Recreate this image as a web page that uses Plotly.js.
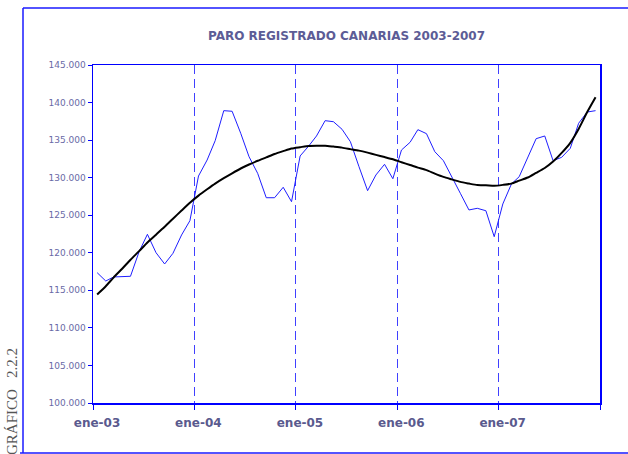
<!DOCTYPE html>
<html>
<head>
<meta charset="utf-8">
<script src="https://cdn.plot.ly/plotly-3.0.1.min.js"></script>
<style>
  html, body { margin: 0; padding: 0; background: #fff; }
  #chart { width: 628px; height: 454px; }
</style>
</head>
<body>
<div id="chart"></div>
<script>
// ---- DATA ----
var years = [2003, 2004, 2005, 2006, 2007];

// Monthly registered unemployment, Canarias (Jan 2003 .. Dec 2007)
var paro2003 = [117350, 116240, 116780, 116780, 116870, 120140, 122460, 120010, 118510, 119930, 122370, 124270];
var paro2004 = [130220, 132350, 134920, 138920, 138840, 135910, 132790, 130580, 127330, 127330, 128720, 126800];
var paro2005 = [132890, 134220, 135550, 137590, 137450, 136440, 134790, 131460, 128270, 130360, 131780, 129860];
var paro2006 = [133680, 134710, 136390, 135860, 133460, 132260, 130220, 127920, 125700, 125920, 125600, 122140];
var paro2007 = [126500, 129160, 130130, 132790, 135190, 135550, 132260, 132710, 133910, 137240, 138740, 138920];

// Trend line (black curve), same months
var tend2003 = [114450, 115550, 116700, 117880, 119080, 120220, 121370, 122410, 123460, 124540, 125620, 126660];
var tend2004 = [127610, 128450, 129210, 129930, 130580, 131220, 131750, 132250, 132700, 133150, 133530, 133880];
var tend2005 = [134060, 134230, 134260, 134260, 134140, 134000, 133800, 133600, 133330, 133030, 132740, 132450];
var tend2006 = [132060, 131690, 131340, 131000, 130540, 130100, 129770, 129440, 129210, 129010, 129000, 128920];
var tend2007 = [129040, 129210, 129600, 130020, 130640, 131290, 132150, 133300, 134640, 136480, 138730, 140700];

var tickVals = ['2003-01-01', '2004-01-01', '2005-01-01', '2006-01-01', '2007-01-01', '2008-01-01'];
var tickText = ['ene-03', 'ene-04', 'ene-05', 'ene-06', 'ene-07', ''];

var chartTitle = 'PARO REGISTRADO CANARIAS 2003-2007';
var sideLabel = 'GRÁFICO   2.2.2';

// ---- BUILD ----
var paro = [].concat(paro2003, paro2004, paro2005, paro2006, paro2007);
var tend = [].concat(tend2003, tend2004, tend2005, tend2006, tend2007);

// points sit in the middle of each month (Excel date axis)
var months = [];
years.forEach(function (y) {
  for (var m = 1; m <= 12; m++) {
    var mm = (m < 10 ? '0' : '') + m;
    months.push(y + '-' + mm + '-16');
  }
});

var blue = '#0000ff';
var frameBlue = '#1a1aff';

var traces = [
  {
    x: months, y: paro, type: 'scatter', mode: 'lines',
    line: { color: '#1e1eff', width: 1 },
    hoverinfo: 'x+y', showlegend: false
  },
  {
    x: months, y: tend, type: 'scatter', mode: 'lines',
    line: { color: '#000000', width: 2, shape: 'spline', smoothing: 0.6 },
    hoverinfo: 'x+y', showlegend: false
  }
];

// helpers to place frame in paper coords from pixel layout
var L = 93, R = 600, T = 65, B = 403;
function px(x) { return (x - L) / (R - L); }
function py(y) { return (B - y) / (B - T); }

var layout = {
  width: 628, height: 454,
  margin: { l: L, r: 628 - R, t: T, b: 454 - B, pad: 0 },
  paper_bgcolor: '#ffffff',
  plot_bgcolor: '#ffffff',
  separators: ',.',
  showlegend: false,
  title: {
    text: '<b>' + chartTitle + '</b>',
    font: { family: 'DejaVu Sans, Verdana, sans-serif', size: 12, color: '#5c5c96' },
    xref: 'paper', x: 0.5, xanchor: 'center',
    yref: 'container', y: 1 - 36 / 454, yanchor: 'middle'
  },
  xaxis: {
    type: 'date',
    range: ['2003-01-01', '2008-01-01'],
    tickmode: 'array', tickvals: tickVals, ticktext: tickText,
    ticks: 'outside', ticklen: 5, tickwidth: 1, tickcolor: blue,
    ticklabelstandoff: 3, ticklabelshift: 4,
    tickfont: { family: 'DejaVu Sans, Verdana, sans-serif', size: 12, color: '#5a5a8e', weight: 'bold' },
    showline: true, linecolor: blue, linewidth: 1.5, mirror: true,
    showgrid: true, gridcolor: '#4040ff', gridwidth: 1, griddash: '9px,5px',
    zeroline: false, fixedrange: true
  },
  yaxis: {
    range: [100000, 145000],
    tick0: 100000, dtick: 5000,
    tickformat: ',d',
    ticks: 'outside', ticklen: 4, tickwidth: 1, tickcolor: blue,
    tickfont: { family: 'DejaVu Sans, Verdana, sans-serif', size: 9, color: '#6a6aa6' },
    showline: true, linecolor: blue, linewidth: 1.5, mirror: true,
    showgrid: false, zeroline: false, fixedrange: true
  },
  shapes: [
    { type: 'line', xref: 'paper', yref: 'paper', x0: px(23), x1: px(640), y0: py(8), y1: py(8), line: { color: frameBlue, width: 1.5 } },
    { type: 'line', xref: 'paper', yref: 'paper', x0: px(23), x1: px(23), y0: py(8), y1: py(453), line: { color: frameBlue, width: 1.5 } },
    { type: 'line', xref: 'paper', yref: 'paper', x0: px(20), x1: px(640), y0: py(453), y1: py(453), line: { color: frameBlue, width: 1.5 } }
  ],
  annotations: [
    {
      text: sideLabel, xref: 'paper', yref: 'paper',
      x: px(12), y: py(402), xanchor: 'center', yanchor: 'middle',
      textangle: -90, showarrow: false,
      font: { family: 'Liberation Serif, Times New Roman, serif', size: 15, color: '#555555' }
    }
  ]
};

Plotly.newPlot('chart', traces, layout, { displayModeBar: false, staticPlot: true });
</script>
</body>
</html>
